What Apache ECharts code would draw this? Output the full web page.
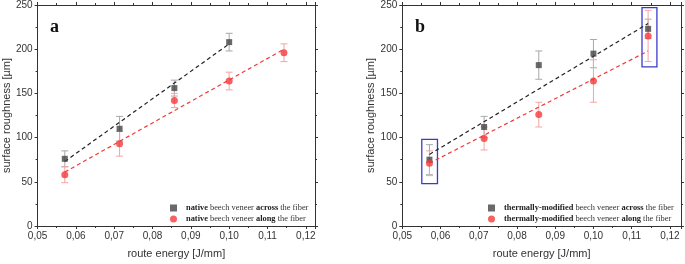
<!DOCTYPE html>
<html>
<head>
<meta charset="utf-8">
<script src="https://cdn.jsdelivr.net/npm/echarts@6/dist/echarts.min.js"></script>
<style>
  html, body { margin: 0; padding: 0; background: #fff; }
  #chart { width: 685px; height: 264px; }
</style>
</head>
<body>
<div id="chart"></div>
<script>
// route energy values (J/mm)
const energy = [0.0571, 0.0714, 0.0857, 0.1000, 0.1143];

// panel a - native beech veneer
const nativeAcross = [76, 110, 156, 208];
const nativeAcrossErr = [9, 14, 9, 10];
const nativeAlong = [58, 93, 142, 164, 196];
const nativeAlongErr = [9, 14, 8, 10, 10];
const nativeAcrossFitX = [0.0571, 0.1000];
const nativeAcrossFit = [73, 206];
const nativeAlongFitX = [0.0571, 0.1143];
const nativeAlongFit = [61, 200];

// panel b - thermally-modified beech veneer
const thermalAcross = [75, 112, 182, 195, 223];
const thermalAcrossErr = [17, 12, 16, 16, 11];
const thermalAlong = [71, 99, 126, 164, 215];
const thermalAlongErr = [14, 13, 14, 24, 29];
const thermalAcrossFitX = [0.0571, 0.1143];
const thermalAcrossFit = [81, 229];
const thermalAlongFitX = [0.0571, 0.1143];
const thermalAlongFit = [71, 198];

// highlighted regions in panel b: [xFrom, xTo, yFrom, yTo]
const highlightBoxes = [
  [0.0551, 0.0592, 48, 98],
  [0.1127, 0.1166, 180, 247]
];

const yTicks = [0, 50, 100, 150, 200, 250];

const chart = echarts.init(document.getElementById('chart'));

const axisColor = '#333';
const sansFont = 'Liberation Sans';
const serifFont = 'Liberation Serif';

const pairs = (xs, ys) => ys.map((v, i) => [xs[i], v]);
const errPairs = (xs, ys, es) => ys.map((v, i) => [xs[i], v - es[i], v + es[i]]);

function errorSeries(data, color, gridIdx) {
  return {
    type: 'custom',
    xAxisIndex: gridIdx * 2,
    yAxisIndex: gridIdx * 2,
    silent: true,
    z: 2,
    encode: { x: 0, y: [1, 2] },
    data: data,
    renderItem: function (params, api) {
      const x = api.value(0);
      const top = api.coord([x, api.value(2)]);
      const bot = api.coord([x, api.value(1)]);
      const w = 3.5;
      const st = { stroke: color, lineWidth: 1 };
      return {
        type: 'group',
        children: [
          { type: 'line', shape: { x1: top[0], y1: top[1], x2: bot[0], y2: bot[1] }, style: st },
          { type: 'line', shape: { x1: top[0] - w, y1: top[1], x2: top[0] + w, y2: top[1] }, style: st },
          { type: 'line', shape: { x1: bot[0] - w, y1: bot[1], x2: bot[0] + w, y2: bot[1] }, style: st }
        ]
      };
    }
  };
}

function fitSeries(data, color, gridIdx) {
  return {
    type: 'line',
    xAxisIndex: gridIdx * 2,
    yAxisIndex: gridIdx * 2,
    data: data,
    symbol: 'none',
    silent: true,
    z: 3,
    lineStyle: { color: color, width: 1.2, type: [4, 3] }
  };
}

function pointSeries(name, data, symbol, size, color, gridIdx) {
  return {
    name: name,
    type: 'scatter',
    xAxisIndex: gridIdx * 2,
    yAxisIndex: gridIdx * 2,
    data: data,
    symbol: symbol,
    symbolSize: size,
    z: 4,
    itemStyle: { color: color }
  };
}

function xAxes(gridIdx, max) {
  const base = {
    gridIndex: gridIdx,
    type: 'value',
    min: 0.05,
    max: max,
    interval: 0.01,
    splitLine: { show: false },
    axisLine: { show: true, onZero: false, lineStyle: { color: axisColor, width: 1 } },
    axisTick: { show: true, length: 3, lineStyle: { color: axisColor } },
    minorTick: { show: true, splitNumber: 2, length: 2, lineStyle: { color: axisColor } }
  };
  return [
    Object.assign({}, base, {
      position: 'bottom',
      name: 'route energy [J/mm]',
      nameLocation: 'middle',
      nameGap: 22,
      nameTextStyle: { fontFamily: sansFont, fontSize: 11, color: '#333' },
      axisLabel: {
        fontFamily: sansFont, fontSize: 10, color: '#333', margin: 5, showMaxLabel: false,
        formatter: v => v.toFixed(2).replace('.', ',')
      }
    }),
    Object.assign({}, base, { position: 'top', axisLabel: { show: false } })
  ];
}

function yAxes(gridIdx) {
  const base = {
    gridIndex: gridIdx,
    type: 'value',
    min: yTicks[0],
    max: yTicks[yTicks.length - 1],
    interval: yTicks[1] - yTicks[0],
    splitLine: { show: false },
    axisLine: { show: true, onZero: false, lineStyle: { color: axisColor, width: 1 } },
    axisTick: { show: true, length: 3, lineStyle: { color: axisColor } },
    minorTick: { show: true, splitNumber: 2, length: 2, lineStyle: { color: axisColor } }
  };
  return [
    Object.assign({}, base, {
      position: 'left',
      name: 'surface roughness [µm]',
      nameLocation: 'middle',
      nameGap: 24,
      nameTextStyle: { fontFamily: sansFont, fontSize: 11, color: '#333' },
      axisLabel: { fontFamily: sansFont, fontSize: 10, color: '#333', margin: 5 }
    }),
    Object.assign({}, base, { position: 'right', axisLabel: { show: false } })
  ];
}

function legendFor(names, left) {
  return {
    data: names.map((n, i) => ({ name: n, icon: i === 0 ? 'rect' : 'circle' })),
    orient: 'vertical',
    left: left,
    top: 204,
    itemWidth: 7,
    itemHeight: 7,
    itemGap: 3,
    padding: 0,
    selectedMode: false,
    formatter: name => name
      .replace(/^(native|thermally-modified)/, '{b|$1}')
      .replace(/(across|along)/, '{b|$1}'),
    textStyle: {
      fontFamily: serifFont, fontSize: 8.4, color: '#333', padding: [0, 0, 0, 4],
      rich: { b: { fontFamily: serifFont, fontSize: 8.4, fontWeight: 'bold', color: '#222' } }
    }
  };
}

const nA = 'native beech veneer across the fiber';
const nL = 'native beech veneer along the fiber';
const tA = 'thermally-modified beech veneer across the fiber';
const tL = 'thermally-modified beech veneer along the fiber';

const boxSeries = {
  type: 'line',
  xAxisIndex: 2,
  yAxisIndex: 2,
  data: [],
  silent: true,
  z: 5,
  markArea: {
    silent: true,
    itemStyle: { color: 'rgba(0,0,0,0)', borderColor: '#3a3ad0', borderWidth: 1.3 },
    data: highlightBoxes.map(b => [{ coord: [b[0], b[2]] }, { coord: [b[1], b[3]] }])
  }
};

const option = {
  animation: false,
  backgroundColor: '#fff',
  grid: [
    { left: 36.7, top: 4.7, width: 278.3, height: 223 },
    { left: 402.3, top: 4.7, width: 278.7, height: 223 }
  ],
  xAxis: [].concat(xAxes(0, 0.1224), xAxes(1, 0.1229)),
  yAxis: [].concat(yAxes(0), yAxes(1)),
  legend: [legendFor([nA, nL], 170), legendFor([tA, tL], 488)],
  graphic: [
    { type: 'text', left: 50, top: 18, style: { text: 'a', font: 'bold 18px "Liberation Serif"', fill: '#111' } },
    { type: 'text', left: 415, top: 18, style: { text: 'b', font: 'bold 18px "Liberation Serif"', fill: '#111' } }
  ],
  series: [
    errorSeries(errPairs(energy, nativeAcross, nativeAcrossErr), '#a8a8a8', 0),
    errorSeries(errPairs(energy, nativeAlong, nativeAlongErr), '#f4a4a4', 0),
    fitSeries(pairs(nativeAcrossFitX, nativeAcrossFit), '#222', 0),
    fitSeries(pairs(nativeAlongFitX, nativeAlongFit), '#f03a3a', 0),
    pointSeries(nA, pairs(energy, nativeAcross), 'rect', 6, '#444', 0),
    pointSeries(nL, pairs(energy, nativeAlong), 'circle', 7, '#f43a3a', 0),

    errorSeries(errPairs(energy, thermalAcross, thermalAcrossErr), '#a8a8a8', 1),
    errorSeries(errPairs(energy, thermalAlong, thermalAlongErr), '#f4a4a4', 1),
    fitSeries(pairs(thermalAcrossFitX, thermalAcrossFit), '#222', 1),
    fitSeries(pairs(thermalAlongFitX, thermalAlongFit), '#f03a3a', 1),
    pointSeries(tA, pairs(energy, thermalAcross), 'rect', 6, '#444', 1),
    pointSeries(tL, pairs(energy, thermalAlong), 'circle', 7, '#f43a3a', 1),
    boxSeries
  ]
};

chart.setOption(option);
</script>
</body>
</html>
